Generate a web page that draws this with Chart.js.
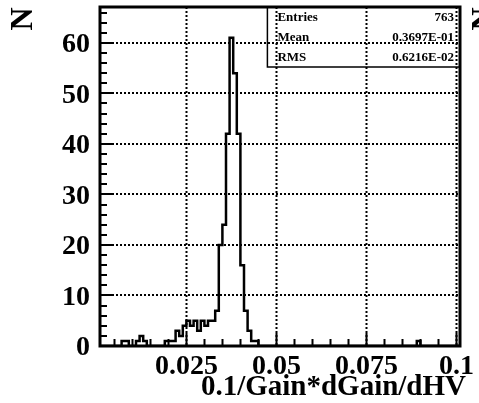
<!DOCTYPE html>
<html>
<head>
<meta charset="utf-8">
<script src="https://cdn.jsdelivr.net/npm/chart.js@4.4.1/dist/chart.umd.min.js"></script>
<style>
  html, body { margin: 0; padding: 0; background: #fff; }
  canvas { display: block; }
</style>
</head>
<body>
<canvas id="hist" width="479" height="403"></canvas>
<script>
// histogram: 100 bins of 0.001 starting at 0.001
const xMin = 0.001;
const xMax = 0.101;
const yMax = 67.1;
const binWidth = 0.001;
const counts = [
  0, 0, 0, 0, 0, 0, 0, 1, 1, 0,
  0, 1, 2, 1, 0, 0, 0, 0, 0, 1,
  1, 1, 3, 2, 4, 5, 4, 5, 3, 5,
  4, 5, 5, 7, 20, 24, 42, 61, 54, 42,
  16, 7, 3, 1, 1, 0, 0, 0, 0, 0,
  0, 0, 0, 0, 0, 0, 0, 0, 0, 0,
  0, 0, 0, 0, 0, 0, 0, 0, 0, 0,
  0, 0, 0, 0, 0, 0, 0, 0, 0, 0,
  0, 0, 0, 0, 0, 0, 0, 0, 0, 1,
  0, 0, 0, 0, 0, 0, 0, 0, 0, 0
];

const xTicks = [0.025, 0.05, 0.075, 0.1];
const xTickLabels = ['0.025', '0.05', '0.075', '0.1'];
const yTicks = [0, 10, 20, 30, 40, 50, 60];
const xMinorStep = 0.005;
const yMinorStep = 2;

const statNames = ['Entries', 'Mean', 'RMS'];
const statValues = ['763', '0.3697E-01', '0.6216E-02'];
const xTitle = '0.1/Gain*dGain/dHV';
const yTitle = 'N';

// bin left edges + closing point for the stepped outline
const points = counts.map((c, i) => ({ x: xMin + i * binWidth, y: c }));
points.push({ x: xMin + counts.length * binWidth, y: counts[counts.length - 1] });

const serif = '"Liberation Serif", "DejaVu Serif", serif';

const rootFrame = {
  id: 'rootFrame',
  beforeDatasetsDraw(chart) {
    const { ctx, chartArea: a, scales: { x, y } } = chart;
    ctx.save();

    // stats box (grid is drawn over it)
    const boxL = x.getPixelForValue(0.0475);
    const boxB = y.getPixelForValue(55.2);
    ctx.fillStyle = '#fff';
    ctx.fillRect(boxL, a.top, a.right - boxL, boxB - a.top);
    ctx.strokeStyle = '#000';
    ctx.lineWidth = 1.5;
    ctx.beginPath();
    ctx.moveTo(boxL, a.top);
    ctx.lineTo(boxL, boxB);
    ctx.lineTo(a.right, boxB);
    ctx.stroke();

    ctx.fillStyle = '#000';
    ctx.font = 'bold 13px ' + serif;
    ctx.textBaseline = 'middle';
    const rowH = (boxB - a.top) / statNames.length;
    statNames.forEach((name, i) => {
      const ty = a.top + rowH * (i + 0.5) + 1;
      ctx.textAlign = 'left';
      ctx.fillText(name, boxL + 10, ty);
      ctx.textAlign = 'right';
      ctx.fillText(statValues[i], a.right - 6, ty);
    });

    // dotted grid at major ticks
    ctx.lineWidth = 2;
    ctx.setLineDash([2, 2]);
    ctx.beginPath();
    xTicks.forEach(v => {
      const px = Math.round(x.getPixelForValue(v)) + 0.5;
      ctx.moveTo(px, a.top);
      ctx.lineTo(px, a.bottom);
    });
    yTicks.forEach(v => {
      if (v === 0) return;
      const py = Math.round(y.getPixelForValue(v));
      ctx.moveTo(a.left, py);
      ctx.lineTo(a.right, py);
    });
    ctx.stroke();
    ctx.restore();
  },
  afterDatasetsDraw(chart) {
    const { ctx, chartArea: a, scales: { x, y } } = chart;
    ctx.save();
    ctx.strokeStyle = '#000';
    ctx.fillStyle = '#000';

    // frame
    ctx.lineWidth = 3;
    ctx.strokeRect(a.left, a.top, a.right - a.left, a.bottom - a.top);

    // inward ticks
    ctx.lineWidth = 2;
    ctx.beginPath();
    for (let v = 0.005; v < xMax; v += xMinorStep) {
      const px = Math.round(x.getPixelForValue(v)) + 0.5;
      const major = xTicks.some(t => Math.abs(t - v) < 1e-6);
      ctx.moveTo(px, a.bottom);
      ctx.lineTo(px, a.bottom - (major ? 13 : 7));
    }
    for (let v = 0; v < yMax; v += yMinorStep) {
      const py = Math.round(y.getPixelForValue(v));
      const major = v % 10 === 0;
      ctx.moveTo(a.left, py);
      ctx.lineTo(a.left + (major ? 13 : 7), py);
    }
    ctx.stroke();

    // tick labels
    ctx.font = 'bold 28px ' + serif;
    ctx.textBaseline = 'middle';
    ctx.textAlign = 'right';
    yTicks.forEach(v => {
      ctx.fillText(String(v), a.left - 10, y.getPixelForValue(v) + 2);
    });
    ctx.textAlign = 'center';
    xTicks.forEach((v, i) => {
      ctx.fillText(xTickLabels[i], x.getPixelForValue(v), a.bottom + 21);
    });

    // axis titles
    ctx.font = 'bold 29px ' + serif;
    ctx.textAlign = 'right';
    ctx.fillText(xTitle, 466, a.bottom + 42);

    ctx.font = 'bold 32px ' + serif;
    ctx.textAlign = 'center';
    [24, 485].forEach(cx => {
      ctx.save();
      ctx.translate(cx, 19);
      ctx.rotate(-Math.PI / 2);
      ctx.fillText(yTitle, 0, 0);
      ctx.restore();
    });
    ctx.restore();
  }
};

new Chart(document.getElementById('hist'), {
  type: 'line',
  data: {
    datasets: [{
      data: points,
      stepped: 'after',
      borderColor: '#000',
      borderWidth: 2.5,
      pointRadius: 0,
      fill: false
    }]
  },
  options: {
    responsive: false,
    animation: false,
    devicePixelRatio: 1,
    layout: { padding: { left: 100, right: 19, top: 7, bottom: 57 } },
    plugins: { legend: { display: false }, tooltip: { enabled: false } },
    scales: {
      x: { type: 'linear', min: xMin, max: xMax, display: false },
      y: { type: 'linear', min: 0, max: yMax, display: false }
    }
  },
  plugins: [rootFrame]
});
</script>
</body>
</html>
